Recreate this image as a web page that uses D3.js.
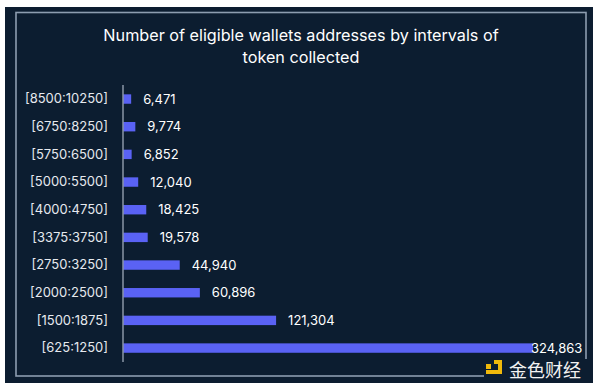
<!DOCTYPE html>
<html>
<head>
<meta charset="utf-8">
<script src="https://cdn.jsdelivr.net/npm/d3@7"></script>
<style>
  html, body { margin: 0; padding: 0; background: #ffffff; }
  svg { display: block; }
</style>
</head>
<body>
<svg id="chart" width="600" height="392"></svg>
<script>
const categories = ["[8500:10250]", "[6750:8250]", "[5750:6500]", "[5000:5500]", "[4000:4750]",
                    "[3375:3750]", "[2750:3250]", "[2000:2500]", "[1500:1875]", "[625:1250]"];
const values = [6471, 9774, 6852, 12040, 18425, 19578, 44940, 60896, 121304, 324863];
const titleLines = ["Number of eligible wallets addresses by intervals of", "token collected"];

const svg = d3.select("#chart");
const font = "Inter, 'Noto Sans', sans-serif";

// panel
svg.append("rect").attr("x", 5).attr("y", 7).attr("width", 588).attr("height", 376).attr("fill", "#0c1d30");
svg.append("rect").attr("x", 16).attr("y", 12.5).attr("width", 570).attr("height", 363.5)
  .attr("fill", "none").attr("stroke", "#8d9db0").attr("stroke-width", 1.6);

// title
svg.append("g").selectAll("text").data(titleLines).join("text")
  .attr("x", 301).attr("y", (d, i) => 41 + i * 22)
  .attr("text-anchor", "middle").attr("fill", "#ffffff")
  .attr("font-family", font).attr("font-size", 16.2).text(d => d);

const x = d3.scaleLinear().domain([0, d3.max(values)]).range([123, 533]);
const y = d3.scaleBand().domain(categories).range([85.2, 361.9]).paddingInner(0.66).paddingOuter(0.33);

const data = categories.map((c, i) => ({c, v: values[i]}));

svg.append("g").selectAll("rect").data(data).join("rect")
  .attr("x", x(0)).attr("y", d => y(d.c))
  .attr("width", d => x(d.v) - x(0)).attr("height", y.bandwidth())
  .attr("fill", "#5a62f4");

// y axis
const yAxis = d3.axisLeft(y).tickSize(0).tickPadding(15);
const ag = svg.append("g").attr("transform", "translate(123,0)").call(yAxis);
ag.select(".domain").remove();
ag.selectAll("text").attr("fill", "#e6e9ee").attr("font-family", font).attr("font-size", 13);
svg.append("line").attr("x1", 123).attr("x2", 123).attr("y1", 85).attr("y2", 362)
  .attr("stroke", "#8a96a6").attr("stroke-width", 1.5);

// value labels
const fmt = d3.format(",");
svg.append("g").selectAll("text").data(data).join("text")
  .attr("x", d => Math.min(x(d.v) + 12, 531))
  .attr("y", d => y(d.c) + y.bandwidth() / 2)
  .attr("dy", "0.35em").attr("fill", "#ffffff")
  .attr("font-family", font).attr("font-size", 13).text(d => fmt(d.v));

// watermark
const wm = svg.append("g");
wm.append("rect").attr("x", 484).attr("y", 359).attr("width", 106).attr("height", 20).attr("fill", "#0c1d30");
wm.append("rect").attr("x", 486).attr("y", 364).attr("width", 5).attr("height", 5).attr("fill", "#f0b90b");
wm.append("path").attr("d", "M494,360 H502 V374 H486 V370 H498 V364 H494 Z").attr("fill", "#f0b90b");
wm.append("text").attr("x", 509).attr("y", 376.5).attr("fill", "#f2f2f2")
  .attr("font-family", "'Noto Sans CJK SC', sans-serif").attr("font-size", 18).text("金色财经");
</script>
</body>
</html>
